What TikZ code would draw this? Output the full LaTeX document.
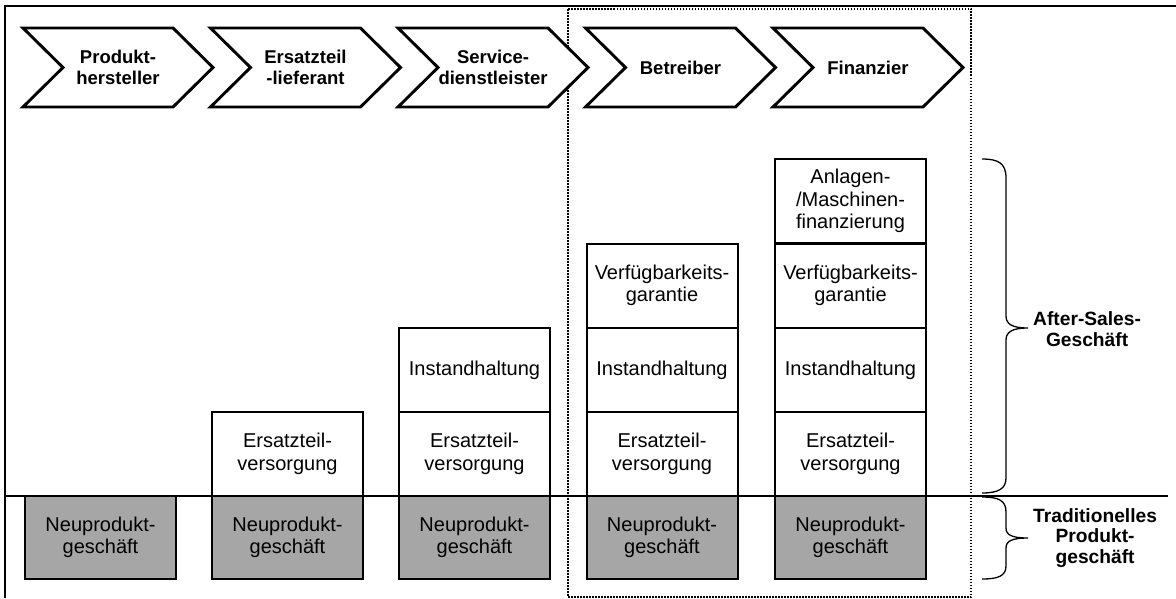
\documentclass[tikz,border=0pt]{standalone}
\usepackage{fontspec}
\setmainfont{Liberation Sans}
\definecolor{boxgrey}{RGB}{166,166,166}
\begin{document}
\begin{tikzpicture}[x=1pt,y=-1pt,
  chev/.style={draw, fill=white, line width=2.9pt, line join=miter},
  chevtext/.style={font=\fontsize{18.5}{21}\selectfont\bfseries, align=center, inner sep=0},
  cell/.style={draw, line width=2pt, minimum width=151pt, minimum height=84pt,
    inner sep=0, align=center, font=\fontsize{20}{22.5}\selectfont},
  newbiz/.style={cell, fill=boxgrey, minimum height=83pt},
  sidetext/.style={font=\fontsize{19.2}{20.5}\selectfont\bfseries, align=center,
    inner sep=0, anchor=west},
  bracestroke/.style={line width=1.3pt},
  frameline/.style={line width=2pt},
  focusframe/.style={line width=1.5pt, dash pattern=on 1.5pt off 1.5pt}
]
\useasboundingbox (0,0) rectangle (1176,598);

% outer frame (top and left edges)
\coordinate (frameTR) at (1176,6);
\coordinate (frameTL) at (5,6);
\coordinate (frameBL) at (5,598);
\draw[frameline] (frameTR) -- (frameTL) -- (frameBL);

% dotted frame around the operator and financier roles
\coordinate (focusA) at (568,9);
\coordinate (focusB) at (971,597);
\draw[focusframe] (focusA) rectangle (focusB);

% divider between after-sales and traditional business
\coordinate (divL) at (5,496);
\coordinate (divR) at (1168,496);
\draw[line width=2pt] (divL) -- (divR);

% value chain chevrons
\foreach \i/\txt in {0/{Produkt-\\hersteller}, 1/{Ersatzteil\\-lieferant},
                     2/{Service-\\dienstleister}, 3/{Betreiber}, 4/{Finanzier}} {
  \pgfmathsetmacro{\xo}{23+187.5*\i}
  \draw[chev] (\xo,28) -- ++(150,0) -- ++(40,39.5) -- ++(-40,39.5)
              -- ++(-150,0) -- ++(40,-39.5) -- cycle;
  \node[chevtext] (role\i) at (\xo+95,67.5) {\txt};
}

% column 1: product manufacturer
\node[newbiz] (c1new) at (100.5,537.5) {Neuprodukt-\\geschäft};

% column 2: spare parts supplier
\node[newbiz] (c2new) at (287.5,537.5) {Neuprodukt-\\geschäft};
\node[cell] (c2spare) at (287.5,454) {Ersatzteil-\\versorgung};

% column 3: service provider
\node[newbiz] (c3new) at (474.5,537.5) {Neuprodukt-\\geschäft};
\node[cell] (c3spare) at (474.5,454) {Ersatzteil-\\versorgung};
\node[cell] (c3maint) at (474.5,370) {Instandhaltung};

% column 4: operator
\node[newbiz] (c4new) at (662,537.5) {Neuprodukt-\\geschäft};
\node[cell] (c4spare) at (662,454) {Ersatzteil-\\versorgung};
\node[cell] (c4maint) at (662,370) {Instandhaltung};
\node[cell] (c4avail) at (662,285.5) {Verfügbarkeits-\\garantie};

% column 5: financier
\node[newbiz] (c5new) at (850.5,537.5) {Neuprodukt-\\geschäft};
\node[cell] (c5spare) at (850.5,454) {Ersatzteil-\\versorgung};
\node[cell] (c5maint) at (850.5,370) {Instandhaltung};
\node[cell] (c5avail) at (850.5,285.5) {Verfügbarkeits-\\garantie};
\node[cell] (c5fin) at (850.5,201) {Anlagen-\\/Maschinen-\\finanzierung};

% braces with their labels
\coordinate (asTop) at (982,159);
\coordinate (asTip) at (1028,328);
\coordinate (asBot) at (982,493);
\draw[bracestroke] (asTop) .. controls (998,159) and (1006,163) .. (1006,178)
  -- (1006,316) .. controls (1006,324) and (1012,328) .. (asTip)
  .. controls (1012,328) and (1006,332) .. (1006,340)
  -- (1006,478) .. controls (1006,489) and (998,493) .. (asBot);
\node[sidetext] (aftersales) at (1033,329) {After-Sales-\\Geschäft};

\coordinate (tpTop) at (982,497);
\coordinate (tpTip) at (1028,538);
\coordinate (tpBot) at (982,579);
\draw[bracestroke] (tpTop) .. controls (998,497) and (1006,500) .. (1006,512)
  -- (1006,528) .. controls (1006,535) and (1012,538) .. (tpTip)
  .. controls (1012,538) and (1006,541) .. (1006,548)
  -- (1006,566) .. controls (1006,576) and (998,579) .. (tpBot);
\node[sidetext] (traditional) at (1033,538) {Traditionelles\\Produkt-\\geschäft};
\end{tikzpicture}
\end{document}
